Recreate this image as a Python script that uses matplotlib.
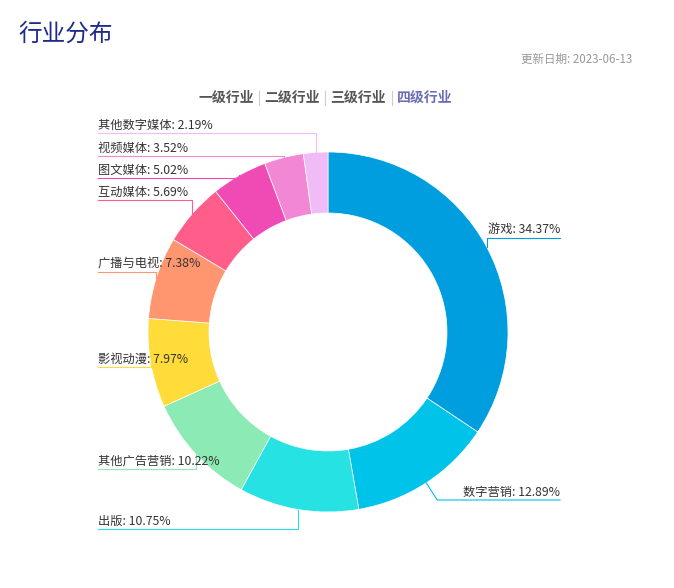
import matplotlib
matplotlib.use("Agg")
import matplotlib.pyplot as plt
import numpy as np

plt.rcParams["font.family"] = ["Noto Sans CJK SC", "DejaVu Sans"]

# data
industries = ["游戏", "数字营销", "出版", "其他广告营销", "影视动漫",
              "广播与电视", "互动媒体", "图文媒体", "视频媒体", "其他数字媒体"]
shares = [34.37, 12.89, 10.75, 10.22, 7.97, 7.38, 5.69, 5.02, 3.52, 2.19]
colors = ["#009EDF", "#00C3EA", "#26E2E3", "#8CEAB4", "#FFDC3A",
          "#FF9670", "#FF5E8A", "#F04AB4", "#F288D5", "#F0BBF6"]
tabs = ["一级行业", "二级行业", "三级行业", "四级行业"]
update_date = "2023-06-13"

# layout (pixels, origin top-left)
W, H = 674, 588
CX, CY, R_OUT, R_IN = 328, 332, 180, 119
LABEL_ROW = [238, 500, 529, 469, 367, 272, 200, 178, 156, 133]
ELBOW_DX = [0, 11, 0, 0, 0, 0, 0, 0, 0, 0]
RIGHT_END, LEFT_START = 560, 98


def Y(py):
    return H - py


fig = plt.figure(figsize=(W / 100, H / 100), dpi=100)
ax = fig.add_axes([0, 0, 1, 1])

wedges, _ = ax.pie(shares, colors=colors, startangle=90, counterclock=False,
                   center=(CX, Y(CY)), radius=R_OUT, frame=True,
                   wedgeprops=dict(width=R_OUT - R_IN, edgecolor="white", linewidth=0.5))
ax.set_xlim(0, W)
ax.set_ylim(0, H)
ax.axis("off")

total = sum(shares)
for w, name, val, col, ly, dx in zip(wedges, industries, shares, colors,
                                     LABEL_ROW, ELBOW_DX):
    mid = np.deg2rad((w.theta1 + w.theta2) / 2)
    ax_x = CX + R_OUT * np.cos(mid)
    ax_y = Y(CY) + R_OUT * np.sin(mid)
    ex, ey = ax_x + dx, Y(ly)
    text = f"{name}: {val / total * 100:.2f}%"
    if np.cos(mid) >= 0:
        ax.plot([ax_x, ex, RIGHT_END], [ax_y, ey, ey], color=col, lw=0.8)
        ax.text(RIGHT_END, ey + 1.5, text, ha="right", va="bottom",
                fontsize=8.8, color="#333333")
    else:
        ax.plot([ax_x, ex, LEFT_START], [ax_y, ey, ey], color=col, lw=0.8)
        ax.text(LEFT_START, ey + 1.5, text, ha="left", va="bottom",
                fontsize=8.8, color="#333333")

# header
ax.text(18, Y(34), "行业分布", fontsize=17, color="#1F2A8A", va="center")
ax.text(632, Y(59), f"更新日期: {update_date}", fontsize=8.3, color="#999999",
        ha="right", va="center")

tab_x = [226, 292, 358, 425]
for i, (tx, t) in enumerate(zip(tab_x, tabs)):
    active = i == len(tabs) - 1
    ax.text(tx, Y(98), t, fontsize=10, fontweight="bold", ha="center", va="center",
            color="#6A6FB5" if active else "#555555")
    if i > 0:
        sx = (tab_x[i - 1] + tx) / 2
        ax.plot([sx, sx], [Y(91), Y(105)], color="#CCCCCC", lw=0.8)

fig.savefig("out.png", dpi=100)
